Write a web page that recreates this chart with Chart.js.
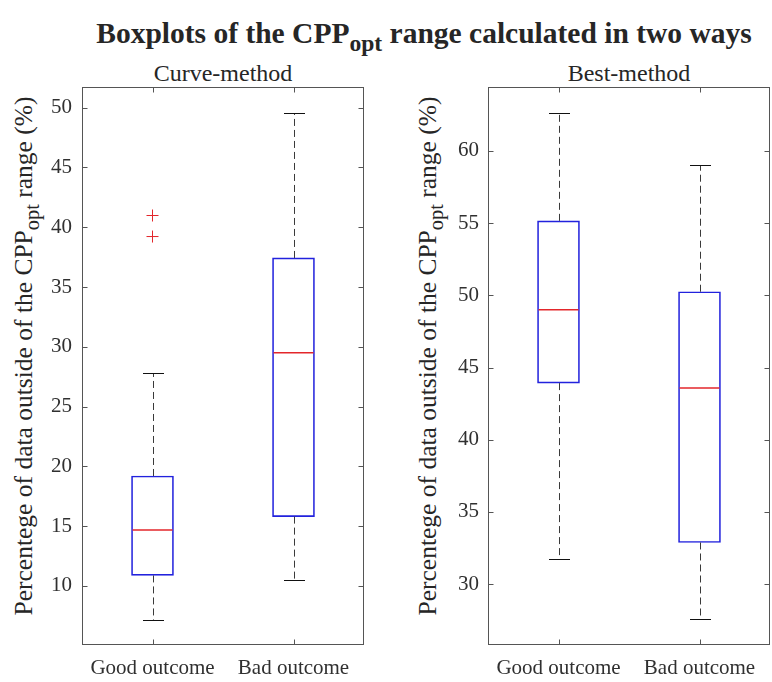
<!DOCTYPE html>
<html>
<head>
<meta charset="utf-8">
<title>Boxplots of the CPPopt range</title>
<script src="https://cdn.jsdelivr.net/npm/chart.js@4.4.0/dist/chart.umd.min.js"></script>
<style>
  body { margin: 0; background: #fff; }
  #fig { position: relative; width: 772px; height: 682px; overflow: hidden;
         font-family: 'Liberation Serif', 'Times New Roman', serif; color: #262626; }
  #fig canvas { position: absolute; top: 60px; }
  .txt { position: absolute; white-space: nowrap; line-height: 1; }
  .sub { position: relative; font-size: 0.8em; top: 0.35em; }
  .main { font-weight: bold; font-size: 29.5px; top: 19px; left: 424px; transform: translateX(-50%); }
  .ttl { font-size: 24px; top: 61px; transform: translateX(-50%); }
  .ylab { font-size: 25.5px; top: 356px; transform: translate(-50%, -50%) rotate(-90deg); }
</style>
</head>
<body>
<div id="fig">
  <div class="txt main">Boxplots of the CPP<span class="sub">opt</span> range calculated in two ways</div>
  <div class="txt ttl" style="left:223px">Curve-method</div>
  <div class="txt ttl" style="left:629px">Best-method</div>
  <div class="txt ylab" style="left:24px">Percentege of data outside of the CPP<span class="sub">opt</span> range (%)</div>
  <div class="txt ylab" style="left:428px">Percentege of data outside of the CPP<span class="sub">opt</span> range (%)</div>
  <canvas id="curveChart" width="386" height="622" style="left:0"></canvas>
  <canvas id="bestChart" width="386" height="622" style="left:386px"></canvas>
</div>
<script>
const groups = ['Good outcome', 'Bad outcome'];

// Curve-method: quartiles, whisker ends and outliers
const curveQ1 = [10.87, 15.79];
const curveMedian = [14.67, 29.5];
const curveQ3 = [19.19, 37.43];
const curveLow = [7.13, 10.45];
const curveHigh = [27.77, 49.58];
const curveOutliers = [[40.98, 39.22], []];
const curveTicks = [10, 15, 20, 25, 30, 35, 40, 45, 50];

// Best-method
const bestQ1 = [43.92, 32.88];
const bestMedian = [49.0, 43.58];
const bestQ3 = [55.16, 50.25];
const bestLow = [31.76, 27.58];
const bestHigh = [62.65, 59.05];
const bestOutliers = [[], []];
const bestTicks = [30, 35, 40, 45, 50, 55, 60];

const serif = "'Liberation Serif', 'Times New Roman', serif";
const axisColor = '#555';
const textColor = '#303030';

// whiskers, caps, medians, then the axes frame with inward ticks
const boxParts = {
  id: 'boxParts',
  afterDatasetsDraw(chart) {
    const ctx = chart.ctx;
    const y = chart.scales.y;
    const ds = chart.data.datasets[0];
    const meta = chart.getDatasetMeta(0);
    ctx.save();
    meta.data.forEach((bar, i) => {
      const cx = Math.round(bar.x) + 0.5;
      const yQ1 = y.getPixelForValue(ds.data[i][0]);
      const yQ3 = y.getPixelForValue(ds.data[i][1]);
      const yLo = Math.round(y.getPixelForValue(ds.low[i])) + 0.5;
      const yHi = Math.round(y.getPixelForValue(ds.high[i])) + 0.5;
      const yMed = y.getPixelForValue(ds.median[i]);

      ctx.strokeStyle = '#3a3a3a';
      ctx.lineWidth = 1;
      ctx.setLineDash([7, 4]);
      ctx.beginPath();
      ctx.moveTo(cx, yQ3); ctx.lineTo(cx, yHi);
      ctx.moveTo(cx, yQ1); ctx.lineTo(cx, yLo);
      ctx.stroke();

      ctx.setLineDash([]);
      ctx.strokeStyle = '#111';
      ctx.beginPath();
      ctx.moveTo(cx - 10.5, yHi); ctx.lineTo(cx + 10.5, yHi);
      ctx.moveTo(cx - 10.5, yLo); ctx.lineTo(cx + 10.5, yLo);
      ctx.stroke();

      ctx.strokeStyle = '#e3262b';
      ctx.lineWidth = 1.3;
      ctx.beginPath();
      ctx.moveTo(bar.x - bar.width / 2 + 1, yMed);
      ctx.lineTo(bar.x + bar.width / 2 - 1, yMed);
      ctx.stroke();
    });
    ctx.restore();
  },
  afterDraw(chart) {
    const ctx = chart.ctx;
    const a = chart.chartArea;
    const l = Math.round(a.left) + 0.5, r = Math.round(a.right) - 0.5;
    const t = Math.round(a.top) + 0.5, b = Math.round(a.bottom) - 0.5;
    const tick = 5;
    ctx.save();
    ctx.strokeStyle = axisColor;
    ctx.lineWidth = 1;
    ctx.strokeRect(l, t, r - l, b - t);
    ctx.beginPath();
    chart.scales.y.ticks.forEach(tk => {
      const py = Math.round(chart.scales.y.getPixelForValue(tk.value)) + 0.5;
      ctx.moveTo(l, py); ctx.lineTo(l + tick, py);
      ctx.moveTo(r, py); ctx.lineTo(r - tick, py);
    });
    groups.forEach((g, i) => {
      const px = Math.round(chart.scales.x.getPixelForValue(i)) + 0.5;
      ctx.moveTo(px, b); ctx.lineTo(px, b - tick);
      ctx.moveTo(px, t); ctx.lineTo(px, t + tick);
    });
    ctx.stroke();
    ctx.restore();
  }
};

function makeBoxChart(id, q1, med, q3, low, high, outliers, ticks, yMin, yMax, yWidth, padRight, tickPad) {
  const points = [];
  outliers.forEach((vals, i) => vals.forEach(v => points.push({ x: groups[i], y: v })));
  return new Chart(document.getElementById(id), {
    type: 'bar',
    data: {
      labels: groups,
      datasets: [{
        data: q1.map((v, i) => [v, q3[i]]),
        median: med,
        low: low,
        high: high,
        backgroundColor: 'rgba(0,0,0,0)',
        borderColor: '#2222dd',
        borderWidth: 1,
        borderSkipped: false,
        barThickness: 42
      }, {
        type: 'line',
        data: points,
        showLine: false,
        pointStyle: 'cross',
        pointRadius: 6,
        pointBorderColor: '#e3262b',
        pointBorderWidth: 1
      }]
    },
    options: {
      responsive: false,
      animation: false,
      layout: { padding: { top: 27, right: padRight, left: 0, bottom: 0 } },
      plugins: { legend: { display: false }, title: { display: false }, tooltip: { enabled: false } },
      scales: {
        x: {
          offset: true,
          grid: { display: false, drawTicks: false },
          border: { display: false },
          ticks: { color: textColor, font: { family: serif, size: 21 }, padding: 11, maxRotation: 0, autoSkip: false },
          afterFit: s => { s.height = 37; }
        },
        y: {
          min: yMin,
          max: yMax,
          grid: { display: false, drawTicks: false },
          border: { display: false },
          ticks: { color: textColor, font: { family: serif, size: 21 }, padding: tickPad },
          afterBuildTicks: s => { s.ticks = ticks.map(v => ({ value: v })); },
          afterFit: s => { s.width = yWidth; }
        }
      }
    },
    plugins: [boxParts]
  });
}

makeBoxChart('curveChart', curveQ1, curveMedian, curveQ3, curveLow, curveHigh, curveOutliers,
  curveTicks, 5.05, 51.73, 82, 22, 10);
makeBoxChart('bestChart', bestQ1, bestMedian, bestQ3, bestLow, bestHigh, bestOutliers,
  bestTicks, 25.78, 64.43, 102, 2, 9);
</script>
</body>
</html>
